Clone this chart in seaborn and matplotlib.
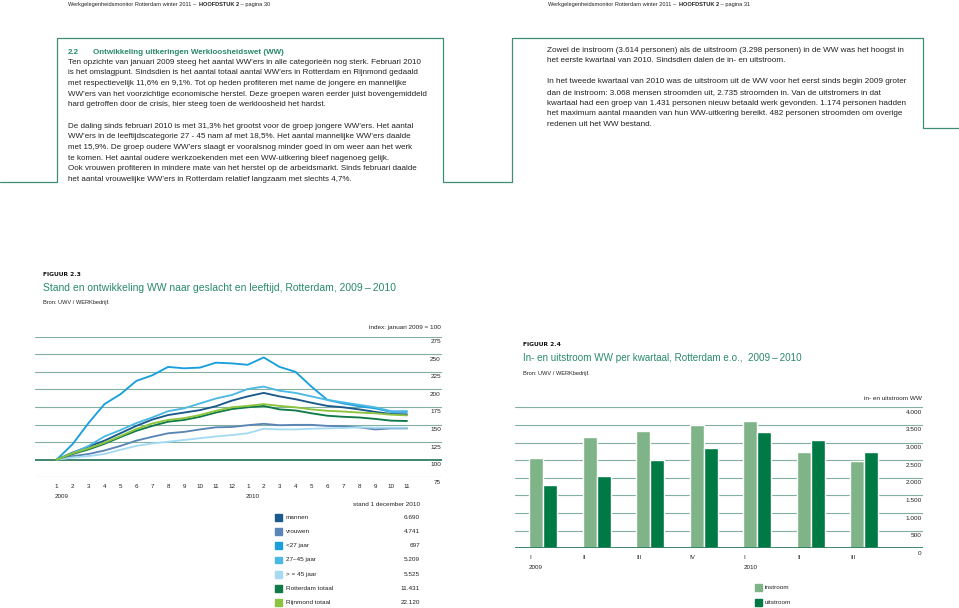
import numpy as np
import pandas as pd
import matplotlib
matplotlib.use("Agg")
import matplotlib.pyplot as plt
import seaborn as sns
from matplotlib.patches import Rectangle
from matplotlib.lines import Line2D

# ---------------- data ----------------
months = ["1", "2", "3", "4", "5", "6", "7", "8", "9", "10", "11", "12",
          "1", "2", "3", "4", "5", "6", "7", "8", "9", "10", "11"]
month_years = ["2009", "2010"]

mannen = [100, 110, 118.5, 127, 137.5, 148, 157, 163.5, 167, 170.5, 176, 184,
          190, 195, 190, 186, 181, 176.5, 174.5, 171.5, 168, 165, 164.5]
vrouwen = [100, 105, 108, 113, 119.5, 127, 132.5, 137.5, 139.5, 143, 146, 146.5,
           149, 151, 149, 149.5, 149.5, 148, 147.5, 146, 143, 144.5, 144.5]
jonger27 = [100, 122, 152, 179, 193, 212, 220, 232, 230, 231, 238, 237,
            235, 245.5, 232, 225, 204, 185, 180, 176, 173, 168, 168]
leeftijd27_45 = [100, 109, 119.5, 133, 142, 152, 160, 169, 173, 180, 187, 192,
                 200.5, 204, 198, 195, 190, 185, 181.5, 178, 174.5, 169, 169]
ouder45 = [100, 103, 105, 108, 114, 119.5, 123, 125.5, 128, 130.5, 133, 135,
           137.5, 144, 143, 143, 144, 144.5, 145, 146, 145.5, 145.5, 145.5]
rotterdam = [100, 108, 114.5, 122.5, 132, 141, 148, 154, 156.5, 161, 167, 172,
             174.5, 176.5, 171.5, 170, 166, 162.5, 161, 160, 158, 155.5, 155]
rijnmond = [100, 109, 116, 124, 133.5, 143.5, 151.5, 156.5, 159, 163.5, 169.5, 174.5,
            176.5, 179, 176.5, 174.5, 171.5, 169.5, 168.5, 167, 166, 164, 163]

series_names = ["mannen", "vrouwen", "<27 jaar", "27\u201345 jaar",
                "> = 45 jaar", "Rotterdam totaal", "Rijnmond totaal"]
series_values = [mannen, vrouwen, jonger27, leeftijd27_45, ouder45, rotterdam, rijnmond]
series_colors = ["#1b5a8c", "#5b85b5", "#1a9fdc", "#4cb9e5", "#a6daf2", "#0f7a48", "#8cc43f"]
stand_dec = ["6.690", "4.741", "697", "5.209", "5.525", "11.431", "22.120"]
index_ticks = [75, 100, 125, 150, 175, 200, 225, 250, 275]

quarters = ["I", "II", "III", "IV", "I", "II", "III"]
quarter_years = ["2009", "2010"]
instroom = [2560, 3150, 3330, 3500, 3614, 2735, 2490]
uitstroom = [1800, 2050, 2500, 2850, 3298, 3068, 2720]
flow_ticks = [0, 500, 1000, 1500, 2000, 2500, 3000, 3500, 4000]
flow_tick_labels = ["0", "500", "1.000", "1.500", "2.000", "2.500", "3.000", "3.500", "4.000"]
flow_names = ["instroom", "uitstroom"]
flow_colors = ["#7fb488", "#007a45"]

# ---------------- style ----------------
sns.set_style("white")
plt.rcParams["font.family"] = ["Liberation Sans", "DejaVu Sans"]

W, H = 959, 608
fig = plt.figure(figsize=(W / 100, H / 100), dpi=100)
fig.patch.set_facecolor("white")


def fx(x):
    return x / W


def fy(y):
    return 1 - y / H


GREEN = "#2a8a68"
FRAME = "#3f8d72"
GRID = "#82b0a0"
BASE = "#2f7d62"
TXT = "#222222"

renderer = fig.canvas.get_renderer()


def runs(x, y, parts, size):
    for text, bold in parts:
        t = fig.text(fx(x), fy(y), text, fontsize=size, color=TXT,
                     fontweight="bold" if bold else "normal", va="center", ha="left")
        bb = t.get_window_extent(renderer)
        x = bb.x1 + (1.2 if text.endswith(" ") else 0)


# page headers
runs(68, 4.5, [("Werkgelegenheidsmonitor Rotterdam winter 2011 \u2013 ", False),
               ("HOOFDSTUK 2", True), (" \u2013 pagina 30", False)], 4.1)
runs(548, 4.5, [("Werkgelegenheidsmonitor Rotterdam winter 2011 \u2013 ", False),
                ("HOOFDSTUK 2", True), (" \u2013 pagina 31", False)], 4.1)

# frames
def fline(xs, ys):
    fig.add_artist(Line2D([fx(v) for v in xs], [fy(v) for v in ys], color=FRAME, lw=0.9))


fline([0, 56.7, 56.7, 443.3, 443.3, 511.7, 511.7, 922.7, 922.7, 959],
      [181.7, 181.7, 37.7, 37.7, 181.7, 181.7, 37.7, 37.7, 127.7, 127.7])

# left text
BODY_L = 5.75
BODY_R = 5.88
fig.text(fx(68), fy(52.3), "2.2", fontsize=BODY_L, color=GREEN, fontweight="bold", va="center")
fig.text(fx(93.3), fy(52.3), "Ontwikkeling uitkeringen Werkloosheidswet (WW)", fontsize=BODY_L,
         color=GREEN, fontweight="bold", va="center")
left_lines = [
    "Ten opzichte van januari 2009 steeg het aantal WW\u2019ers in alle categorie\u00ebn nog sterk. Februari 2010",
    "is het omslagpunt. Sindsdien is het aantal totaal aantal WW\u2019ers in Rotterdam en Rijnmond gedaald",
    "met respectievelijk 11,6% en 9,1%. Tot op heden profiteren met name de jongere en mannelijke",
    "WW\u2019ers van het voorzichtige economische herstel. Deze groepen waren eerder juist bovengemiddeld",
    "hard getroffen door de crisis, hier steeg toen de werkloosheid het hardst.",
    "",
    "De daling sinds februari 2010 is met 31,3% het grootst voor de groep jongere WW\u2019ers. Het aantal",
    "WW\u2019ers in de leeftijdscategorie 27 - 45 nam af met 18,5%. Het aantal mannelijke WW\u2019ers daalde",
    "met 15,9%. De groep oudere WW\u2019ers slaagt er vooralsnog minder goed in om weer aan het werk",
    "te komen. Het aantal oudere werkzoekenden met een WW-uitkering bleef nagenoeg gelijk.",
    "Ook vrouwen profiteren in mindere mate van het herstel op de arbeidsmarkt. Sinds februari daalde",
    "het aantal vrouwelijke WW\u2019ers in Rotterdam relatief langzaam met slechts 4,7%.",
]
for k, line in enumerate(left_lines):
    fig.text(fx(68), fy(62.2 + k * 10.65), line, fontsize=BODY_L, color=TXT, va="center")

right_lines = [
    "Zowel de instroom (3.614 personen) als de uitstroom (3.298 personen) in de WW was het hoogst in",
    "het eerste kwartaal van 2010. Sindsdien dalen de in- en uitstroom.",
    "",
    "In het tweede kwartaal van 2010 was de uitstroom uit de WW voor het eerst sinds begin 2009 groter",
    "dan de instroom: 3.068 mensen stroomden uit, 2.735 stroomden in. Van de uitstromers in dat",
    "kwartaal had een groep van 1.431 personen nieuw betaald werk gevonden. 1.174 personen hadden",
    "het maximum aantal maanden van hun WW-uitkering bereikt. 482 personen stroomden om overige",
    "redenen uit het WW bestand.",
]
for k, line in enumerate(right_lines):
    fig.text(fx(546.7), fy(50 + k * 10.65), line, fontsize=BODY_R, color=TXT, va="center")

# figure titles
for x0, y0, fnum, title, tsize, src in [
    (43.3, 275, "FIGUUR 2.3", "Stand en ontwikkeling WW naar geslacht en leeftijd, Rotterdam, 2009\u2009\u2013\u20092010", 7.45, 302.7),
    (523.3, 345, "FIGUUR 2.4", "In- en uitstroom WW per kwartaal, Rotterdam e.o.,  2009\u2009\u2013\u20092010", 7.15, 373.3),
]:
    fig.text(fx(x0), fy(y0), fnum, fontsize=4.3, color="#111111", fontweight="heavy",
             family=["DejaVu Sans"], va="center")
    fig.text(fx(x0), fy(y0 + 12.6), title, fontsize=tsize, color=GREEN, va="center",
             family=["Liberation Sans", "DejaVu Sans"])
    fig.text(fx(x0), fy(src), "Bron: UWV / WERKbedrijf.", fontsize=4.1, color=TXT, va="center")

# ---------------- line chart ----------------
ax1 = fig.add_axes([fx(35), fy(477.2), (442 - 35) / W, (477.2 - 336.7) / H])
rows = []
for name, vals in zip(series_names, series_values):
    for i, v in enumerate(vals):
        rows.append({"t": i, "index": v, "groep": name})
df_lines = pd.DataFrame(rows)

for v in index_ticks:
    if v == 100:
        ax1.axhline(v, color=BASE, lw=1.3, zorder=1)
    else:
        ax1.axhline(v, color=GRID, lw=0.8, zorder=1)
    ax1.annotate(str(v), xy=(1, v), xycoords=ax1.get_yaxis_transform(),
                 xytext=(-0.8, -3.6), textcoords="offset points",
                 ha="right", va="center", fontsize=4.6, color=TXT)

sns.lineplot(data=df_lines, x="t", y="index", hue="groep", hue_order=series_names,
             palette=dict(zip(series_names, series_colors)), linewidth=1.35,
             legend=False, ax=ax1, zorder=3)
ax1.set_xlim(-1.36, 24.2)
ax1.set_ylim(75, 275)
ax1.set_axis_off()

for i, m in enumerate(months):
    ax1.annotate(m, xy=(i, 0), xycoords=("data", "axes fraction"), xytext=(0, -6.8),
                 textcoords="offset points", ha="center", va="center", fontsize=4.5, color=TXT)
for j, yr in enumerate(month_years):
    ax1.annotate(yr, xy=(j * 12, 0), xycoords=("data", "axes fraction"), xytext=(-1.4, -14),
                 textcoords="offset points", ha="left", va="center", fontsize=4.5, color=TXT)
ax1.annotate("index: januari 2009 = 100", xy=(1, 275), xycoords=ax1.get_yaxis_transform(),
             xytext=(-0.8, 6.9), textcoords="offset points", ha="right", va="center",
             fontsize=4.6, color=TXT)

# legend with values
fig.text(fx(420), fy(504.3), "stand 1 december 2010", fontsize=4.6, color=TXT, ha="right", va="center")
for k, (name, col, val) in enumerate(zip(series_names, series_colors, stand_dec)):
    yc = 517.3 + k * 14.23
    fig.add_artist(Rectangle((fx(275), fy(yc + 3.4)), 6.8 / W, 6.8 / H, color=col,
                             transform=fig.transFigure))
    fig.text(fx(285.5), fy(yc), name, fontsize=4.6, color=TXT, va="center")
    fig.text(fx(420), fy(yc), val, fontsize=4.6, color=TXT, va="center", ha="right")

# ---------------- bar chart ----------------
ax2 = fig.add_axes([fx(515), fy(548.3), (923.3 - 515) / W, (548.3 - 407.3) / H])
keys = [f"{q}-{n}" for n, q in enumerate(quarters)]
df_bars = pd.DataFrame({
    "kwartaal": keys * 2,
    "aantal": instroom + uitstroom,
    "stroom": [flow_names[0]] * len(keys) + [flow_names[1]] * len(keys),
})
for v, lab in zip(flow_ticks, flow_tick_labels):
    if v == 0:
        ax2.axhline(v, color=BASE, lw=1.3, zorder=4)
    else:
        ax2.axhline(v, color=GRID, lw=0.8, zorder=1)
    ax2.annotate(lab, xy=(1, v), xycoords=ax2.get_yaxis_transform(),
                 xytext=(-1.1, -3.6), textcoords="offset points",
                 ha="right", va="center", fontsize=4.6, color=TXT)

sns.barplot(data=df_bars, x="kwartaal", y="aantal", hue="stroom", order=keys,
            hue_order=flow_names, palette=dict(zip(flow_names, flow_colors)),
            width=0.52, saturation=1, errorbar=None, legend=False, ax=ax2, zorder=3)
ax2.set_xlim(-0.523, 7.10)
ax2.set_ylim(0, 4000)
ax2.set_axis_off()

for i, q in enumerate(quarters):
    ax2.annotate(q, xy=(i - 0.26, 0), xycoords=("data", "axes fraction"), xytext=(0, -6.5),
                 textcoords="offset points", ha="left", va="center", fontsize=4.5, color=TXT)
for j, yr in enumerate(quarter_years):
    ax2.annotate(yr, xy=(j * 4 - 0.26, 0), xycoords=("data", "axes fraction"), xytext=(0, -13.7),
                 textcoords="offset points", ha="left", va="center", fontsize=4.5, color=TXT)
ax2.annotate("in- en uitstroom WW", xy=(1, 4000), xycoords=ax2.get_yaxis_transform(),
             xytext=(-1.1, 6.5), textcoords="offset points", ha="right", va="center",
             fontsize=4.6, color=TXT)

for k, (name, col) in enumerate(zip(flow_names, flow_colors)):
    yc = 587.3 + k * 15
    fig.add_artist(Rectangle((fx(755), fy(yc + 3.4)), 6.8 / W, 6.8 / H, color=col,
                             transform=fig.transFigure))
    fig.text(fx(765), fy(yc), name, fontsize=4.6, color=TXT, va="center")

fig.savefig("out.png", dpi=100, facecolor="white")
